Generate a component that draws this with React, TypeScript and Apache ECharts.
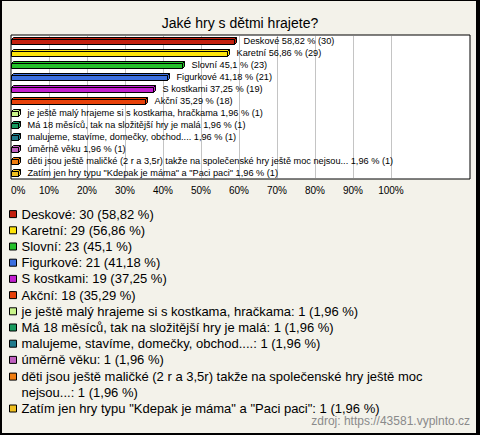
import React, { useEffect, useRef } from "react";
import * as echarts from "echarts";

const categories = [
  "Deskové",
  "Karetní",
  "Slovní",
  "Figurkové",
  "S kostkami",
  "Akční",
  "je ještě malý hrajeme si s kostkama, hračkama",
  "Má 18 měsíců, tak na složitější hry je malá",
  "malujeme, stavíme, domečky, obchod....",
  "úměrně věku",
  "děti jsou ještě maličké (2 r a 3,5r) takže na společenské hry ještě moc nejsou...",
  'Zatím jen hry typu "Kdepak je máma" a "Paci paci"',
];
const counts = [30, 29, 23, 21, 19, 18, 1, 1, 1, 1, 1, 1];
const percents = [58.82, 56.86, 45.1, 41.18, 37.25, 35.29, 1.96, 1.96, 1.96, 1.96, 1.96, 1.96];
const colors = [
  "#c4200e", "#fde40a", "#25c12b", "#3b6fe0", "#c21fcf", "#e8410a",
  "#c9f58a", "#179a5e", "#1f7a8c", "#c060c0", "#f07d10", "#f0c020",
];
const gridValues = [10, 20, 30, 40, 50, 60, 70, 80, 90, 100];
const title = "Jaké hry s dětmi hrajete?";
const source = "zdroj: https://43581.vyplnto.cz";

const FONT = '"Liberation Sans", Arial, sans-serif';
const fmtPct = (p: number) => String(p).replace(".", ",");

export default function App() {
  const ref = useRef<HTMLDivElement>(null);
  useEffect(() => {
    if (!ref.current) return;
    const chart = echarts.init(ref.current, undefined, { renderer: "svg" });

    const barSeries = categories.map((name, i) => ({
      type: "custom",
      name,
      z: 2,
      itemStyle: { color: colors[i] },
      data: [[percents[i], i]],
      renderItem: (params: any, api: any) => {
        const v = api.value(0);
        const idx = api.value(1);
        const p0 = api.coord([0, idx]);
        const p1 = api.coord([v, idx]);
        const x0 = Math.round(p0[0]) + 0.5;
        const x1 = Math.round(p1[0]) + 0.5;
        const yc = Math.round(p0[1]);
        const d = 2;
        const h = 5;
        const top = yc - 1.5;
        const bot = top + h;
        const st = { fill: colors[i], stroke: "#000", lineWidth: 1 };
        return {
          type: "group",
          children: [
            { type: "polygon", shape: { points: [[x0, top], [x0 + d, top - d], [x1 + d, top - d], [x1, top]] }, style: st },
            { type: "polygon", shape: { points: [[x1, top], [x1 + d, top - d], [x1 + d, bot - d], [x1, bot]] }, style: st },
            { type: "rect", shape: { x: x0, y: top, width: x1 - x0, height: h }, style: st },
            {
              type: "text",
              x: x1 + d + 7,
              y: yc,
              style: {
                text: `${categories[i]} ${fmtPct(percents[i])} % (${counts[i]})`,
                fill: "#000",
                font: `9.2px ${FONT}`,
                verticalAlign: "middle",
                align: "left",
              },
            },
          ],
        };
      },
    }));

    const L = 16.2;
    const LEG_TOP = 206;
    const legendFormatter = (name: string) => {
      const i = categories.indexOf(name);
      const s = `${name}: ${counts[i]} (${fmtPct(percents[i])} %)`;
      return s.replace(" moc nejsou", " moc\nnejsou");
    };
    const legendBase = {
      orient: "vertical",
      left: 9,
      padding: 0,
      itemWidth: 7,
      itemHeight: 7,
      itemGap: 0,
      icon: "rect",
      selectedMode: false,
      itemStyle: { borderColor: "#000", borderWidth: 1 },
      textStyle: { fontSize: 13, lineHeight: L, color: "#000", fontFamily: FONT },
      formatter: legendFormatter,
    };
    // tall icon box for the two-line entry: square sits on the first line
    const sqTop = L / 2 - 3.5;
    const tallIcon = `path://M0,${sqTop}H7V${sqTop + 7}H0Z M0,0L0.001,0 M0,${2 * L}L0.001,${2 * L}`;

    const option: any = {
      animation: false,
      backgroundColor: "transparent",
      title: {
        text: title,
        left: "center",
        top: 11,
        textStyle: { fontSize: 14, fontWeight: "normal", color: "#000", fontFamily: FONT },
      },
      grid: {
        left: 11,
        right: 10,
        top: 35,
        bottom: 256,
        show: true,
        backgroundColor: "#fff",
        borderColor: "#000",
        borderWidth: 1,
      },
      xAxis: {
        type: "value",
        min: 0,
        max: 120.8,
        interval: 10,
        axisLine: { show: false },
        axisTick: { show: false },
        splitLine: { show: false },
        axisLabel: {
          margin: 6,
          fontSize: 10,
          color: "#000",
          fontFamily: FONT,
          alignMinLabel: "left",
          formatter: (v: number) => (v <= 100 ? `${v}%` : ""),
        },
      },
      yAxis: {
        type: "category",
        data: categories,
        inverse: true,
        show: false,
      },
      legend: [
        { ...legendBase, top: LEG_TOP, data: categories.slice(0, 10) },
        {
          ...legendBase,
          top: LEG_TOP + 10 * L,
          itemHeight: 2 * L,
          icon: tallIcon,
          data: [categories[10]],
        },
        { ...legendBase, top: LEG_TOP + 12 * L, data: [categories[11]] },
      ],
      graphic: [
        {
          type: "text",
          x: 470,
          y: 421,
          style: {
            text: source,
            fill: "#8a8a8a",
            font: `12px ${FONT}`,
            align: "right",
            verticalAlign: "middle",
          },
        },
      ],
      series: [
        {
          type: "custom",
          name: "__grid",
          silent: true,
          z: 1,
          data: gridValues.map((v) => [v, 0]),
          renderItem: (params: any, api: any) => {
            const cs = params.coordSys;
            const x = Math.round(api.coord([api.value(0), 0])[0]) + 0.5;
            return {
              type: "line",
              shape: { x1: x, y1: cs.y + 1, x2: x, y2: cs.y + cs.height - 1 },
              style: { stroke: "#c4c4c4", lineWidth: 1 },
            };
          },
        },
        ...barSeries,
      ],
    };
    chart.setOption(option);
    return () => chart.dispose();
  }, []);

  return (
    <div style={{ position: "absolute", left: 0, top: 0, width: 480, height: 435, background: "#000" }}>
      <div style={{ position: "absolute", left: 2, top: 1, width: 474, height: 432, background: "#f3f2ea" }} />
      <div ref={ref} style={{ position: "absolute", left: 0, top: 0, width: 480, height: 435 }} />
    </div>
  );
}
